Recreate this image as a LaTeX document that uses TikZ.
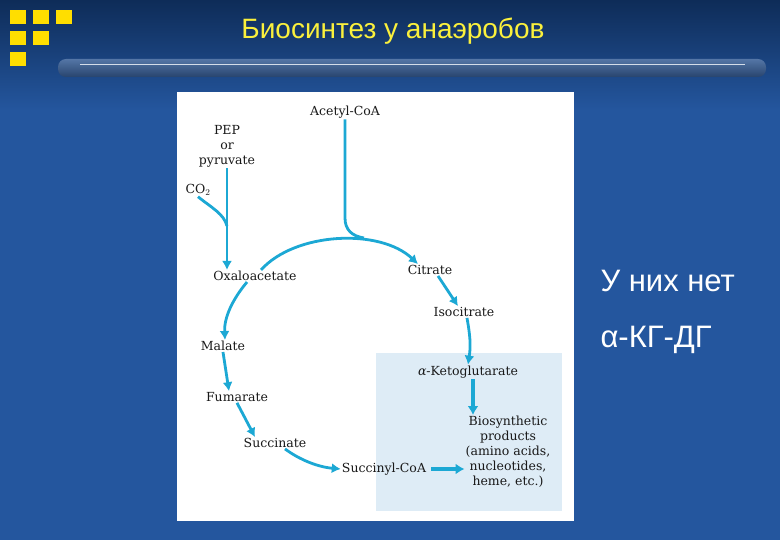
\documentclass[tikz,border=0pt]{standalone}
\usepackage{fontspec}
\setmainfont{DejaVu Serif}
\setsansfont{Liberation Sans}
\usepackage{tikz}
\usetikzlibrary{arrows.meta}
\usetikzlibrary{positioning}

\definecolor{slidetop}{RGB}{14,44,88}
\definecolor{slideblue}{RGB}{36,86,158}
\definecolor{bartop}{RGB}{84,118,166}
\definecolor{barbot}{RGB}{40,68,110}
\definecolor{titleyellow}{RGB}{250,240,60}
\definecolor{squareyellow}{RGB}{255,222,0}
\definecolor{pathcyan}{RGB}{28,168,212}
\definecolor{boxblue}{RGB}{222,236,246}

\begin{document}
\begin{tikzpicture}[
        x=1pt,
        y=-1pt,
        metabolite/.style={
            font=\fontsize{12.5}{15}\selectfont,
            text=black!90,
            align=center,
            inner sep=1pt
        },
        line/.style={
            draw=pathcyan,
            line width=2.8pt,
            -{Latex[length=9pt,width=10pt]}
        },
        bigline/.style={
            draw=pathcyan,
            line width=4pt,
            -{Latex[length=9pt,width=11pt]}
        },
        merge/.style={
            draw=pathcyan,
            line width=2.8pt
        },
        square/.style={
            fill=squareyellow
        },
        note/.style={
            anchor=west,
            text=white,
            font=\sffamily\fontsize{31}{34}\selectfont
        },
        ]

        % slide background
        \useasboundingbox (0,0) rectangle (780,540);
        \fill [slideblue] (0,0) rectangle (780,540);
        \shade [top color=slidetop, bottom color=slideblue] (0,0) rectangle (780,110);
        \fill [square] (10,10) rectangle (26,24);
        \fill [square] (33,10) rectangle (49,24);
        \fill [square] (56,10) rectangle (72,24);
        \fill [square] (10,31) rectangle (26,45);
        \fill [square] (33,31) rectangle (49,45);
        \fill [square] (10,52) rectangle (26,66);
        \shade [top color=bartop, bottom color=barbot, rounded corners=8pt] (58,59) rectangle (766,77);
        \draw [white!75!bartop, line width=1pt] (80,65) -- (745,65);
        \node [text=titleyellow, font=\sffamily\fontsize{28}{30}\selectfont] (title) at (393,31) {Биосинтез у анаэробов};

        % the figure
        \fill [white] (177,92) rectangle (574,521);
        \fill [boxblue] (376,353) rectangle (562,511);

        \node [metabolite] (acetyl) at (345,112) {Acetyl-CoA};
        \node [metabolite] (pep) at (227,146) {PEP\\or\\pyruvate};
        \node [metabolite] (co2) at (198,190) {CO$_2$};
        \node [metabolite] (oxa) at (255,276) {Oxaloacetate};
        \node [metabolite] (citrate) at (430,270) {Citrate};
        \node [metabolite] (isocitrate) at (464,312) {Isocitrate};
        \node [metabolite] (akg) at (468,372) {{\itshape α}-Ketoglutarate};
        \node [metabolite] (malate) at (223,346) {Malate};
        \node [metabolite] (fumarate) at (237,397) {Fumarate};
        \node [metabolite] (succinate) at (275,443) {Succinate};
        \node [metabolite] (succoa) at (384,469) {Succinyl-CoA};
        \node [metabolite] (products) at (508,452) {Biosynthetic\\products\\(amino acids,\\nucleotides,\\heme, etc.)};

        \coordinate (co2-in) at (227,226);
        \coordinate (acetyl-in) at (364,238);

        \path [line] (pep) -- (oxa.north -| pep);
        \path [merge] (co2.south) .. controls (212,208) and (224,214) .. (co2-in);
        \path [merge] (acetyl) -- (345,218) .. controls (345,230) and (352,236) .. (acetyl-in);
        \path [line] ([xshift=6pt]oxa.north) .. controls (295,232) and (380,228) .. ([xshift=-12pt]citrate.north);
        \path [line] ([xshift=8pt]citrate.south) -- ([xshift=-6pt]isocitrate.north);
        \path [line] ([xshift=3pt]isocitrate.south) .. controls (470,335) and (471,345) .. (akg.north);
        \path [bigline] ([xshift=5pt]akg.south) -- ([xshift=-35pt]products.north);
        \path [line] ([xshift=-8pt]oxa.south) .. controls (232,300) and (224,318) .. ([xshift=2pt]malate.north);
        \path [line] (malate.south) -- ([xshift=-8pt]fumarate.north);
        \path [line] (fumarate.south) -- ([xshift=-20pt]succinate.north);
        \path [line] ([xshift=10pt]succinate.south) .. controls (300,460) and (318,467) .. (succoa.west);
        \path [bigline, shorten <=4pt] (succoa.east) -- (products.west |- succoa.east);

        % side note
        \node [note] (note1) at (597,281) {У них нет};
        \node [note] (note2) at (597,340) {α-КГ-ДГ};
    \end{tikzpicture}
\end{document}
